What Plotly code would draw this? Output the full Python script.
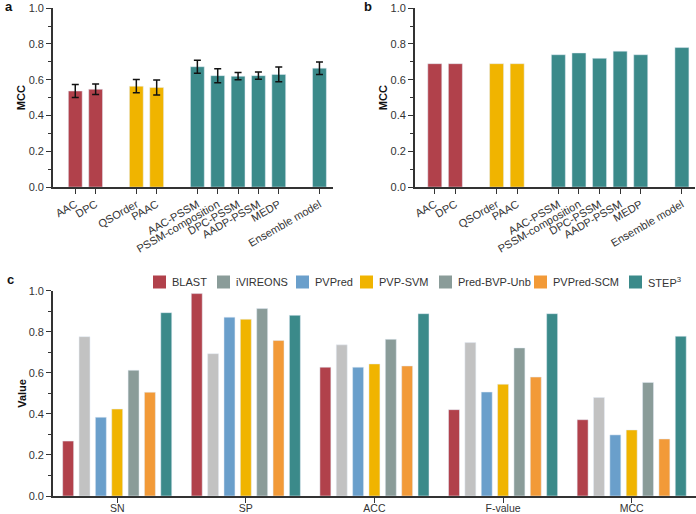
import plotly.graph_objects as go

# ---------- data ----------
feat_labels = ["AAC", "DPC", "QSOrder", "PAAC", "AAC-PSSM", "PSSM-composition",
               "DPC-PSSM", "AADP-PSSM", "MEDP", "Ensemble model"]
feat_pos = [0, 1, 3, 4, 6, 7, 8, 9, 10, 12]
feat_group = ["comp", "comp", "seq", "seq", "pssm", "pssm", "pssm", "pssm", "pssm", "pssm"]
cv_mcc = [0.537, 0.547, 0.564, 0.557, 0.673, 0.623, 0.620, 0.623, 0.630, 0.665]
cv_err = [0.036, 0.029, 0.037, 0.042, 0.036, 0.039, 0.020, 0.020, 0.041, 0.035]
ind_mcc = [0.69, 0.69, 0.69, 0.69, 0.74, 0.75, 0.72, 0.76, 0.74, 0.78]

metrics = ["SN", "SP", "ACC", "F-value", "MCC"]
tools = ["BLAST", "iVIREONS", "PVPred", "PVP-SVM", "Pred-BVP-Unb", "PVPred-SCM", "STEP<sup>3</sup>"]
tool_values = {
    "BLAST":        [0.268, 0.987, 0.628, 0.421, 0.372],
    "iVIREONS":     [0.777, 0.694, 0.737, 0.748, 0.480],
    "PVPred":       [0.384, 0.872, 0.628, 0.507, 0.298],
    "PVP-SVM":      [0.424, 0.862, 0.644, 0.545, 0.322],
    "Pred-BVP-Unb": [0.613, 0.914, 0.764, 0.722, 0.554],
    "PVPred-SCM":   [0.506, 0.758, 0.634, 0.580, 0.278],
    "STEP<sup>3</sup>": [0.894, 0.881, 0.889, 0.889, 0.779],
}

# ---------- styles ----------
W, H = 696, 514
group_colors = {"comp": "#b1414b", "seq": "#f0b400", "pssm": "#3b8a8a"}
tool_bar_colors = ["#b1414b", "#c2c2c2", "#6a9fcb", "#f0b400", "#8a9c99", "#f29a38", "#3b8a8a"]
tool_legend_colors = ["#b1414b", "#8a9c99", "#6a9fcb", "#f0b400", "#8a9c99", "#f29a38", "#3b8a8a"]
legend_swatch_px = [153, 217, 296, 360, 439, 534, 629]   # legend layout (pixels)
FONT = "Liberation Sans, Arial, sans-serif"
AX = "#333333"

fig = go.Figure()
bar_cols = [group_colors[g] for g in feat_group]

fig.add_trace(go.Bar(x=feat_pos, y=cv_mcc, width=0.68, marker_color=bar_cols,
                     error_y=dict(type="data", array=cv_err, color="#111111", thickness=1.5, width=3.5),
                     xaxis="x", yaxis="y", showlegend=False))
fig.add_trace(go.Bar(x=feat_pos, y=ind_mcc, width=0.68, marker_color=bar_cols,
                     xaxis="x2", yaxis="y2", showlegend=False))

for i, t in enumerate(tools):
    fig.add_trace(go.Bar(x=metrics, y=tool_values[t], marker_color=tool_bar_colors[i],
                         xaxis="x3", yaxis="y3", showlegend=False, name=t))

yax = dict(range=[0, 1.0], tickvals=[0, 0.2, 0.4, 0.6, 0.8, 1.0], ticktext=["0.0", "0.2", "0.4", "0.6", "0.8", "1.0"],
           ticks="outside", ticklen=5, tickwidth=1.3, tickcolor=AX, showline=True, linecolor=AX, linewidth=1.5,
           showgrid=False, zeroline=False, automargin=False, tickfont=dict(size=11, color=AX, family=FONT),
           minor=dict(ticks="outside", ticklen=3, tickwidth=1, tickcolor=AX, dtick=0.1))
xax_feat = dict(tickvals=feat_pos, ticktext=feat_labels, tickangle=-30, ticks="outside", ticklen=5,
                tickwidth=1.3, tickcolor=AX, showline=True, linecolor=AX, linewidth=1.5, showgrid=False,
                zeroline=False, automargin=False, tickfont=dict(size=11, color=AX, family=FONT))

# manual legend (swatches + labels)
shapes, annotations = [], []
ly = 282
for i, t in enumerate(tools):
    x0 = legend_swatch_px[i]
    shapes.append(dict(type="rect", xref="paper", yref="paper",
                       x0=x0 / W, x1=(x0 + 13) / W, y0=1 - (ly + 6.5) / H, y1=1 - (ly - 6.5) / H,
                       fillcolor=tool_legend_colors[i], line=dict(width=0)))
    annotations.append(dict(text=t, x=(x0 + 17) / W, y=1 - ly / H, xref="paper", yref="paper",
                            xanchor="left", yanchor="middle", showarrow=False,
                            font=dict(size=11, color=AX, family=FONT)))

for txt, px, py in [("a", 3, 7), ("b", 362, 7), ("c", 5, 279)]:
    annotations.append(dict(text="<b>%s</b>" % txt, x=px / W, y=1 - py / H, xref="paper", yref="paper",
                            xanchor="left", yanchor="middle", showarrow=False,
                            font=dict(size=13, color="#111", family=FONT)))

fig.update_layout(
    width=W, height=H, margin=dict(l=0, r=0, t=0, b=0, autoexpand=False),
    paper_bgcolor="white", plot_bgcolor="white",
    barmode="group", bargap=0.11, bargroupgap=0.33,
    font=dict(family=FONT, color=AX), showlegend=False,
    xaxis=dict(domain=[0.076, 0.478], range=[-1.1, 12.65], anchor="y", **xax_feat),
    yaxis=dict(domain=[0.636, 0.984], anchor="x",
               title=dict(text="<b>MCC</b>", font=dict(size=11, color="#111"), standoff=1), **yax),
    xaxis2=dict(domain=[0.596, 0.999], range=[-0.97, 12.65], anchor="y2", **xax_feat),
    yaxis2=dict(domain=[0.636, 0.984], anchor="x2",
                title=dict(text="<b>MCC</b>", font=dict(size=11, color="#111"), standoff=1), **yax),
    xaxis3=dict(domain=[0.076, 1.0], anchor="y3", ticks="outside", ticklen=5, tickwidth=1.3, tickcolor=AX,
                showline=True, linecolor=AX, linewidth=1.5, showgrid=False, zeroline=False, automargin=False,
                ticklabelstandoff=-3, tickfont=dict(size=10.5, color=AX, family=FONT)),
    yaxis3=dict(domain=[0.035, 0.434], anchor="x3",
                title=dict(text="<b>Value</b>", font=dict(size=11, color="#111"), standoff=0), **yax),
    shapes=shapes, annotations=annotations,
)

fig.write_html("out.html", config={"displayModeBar": False},
               post_script="document.body.style.margin='0';document.body.style.overflow='hidden';")
